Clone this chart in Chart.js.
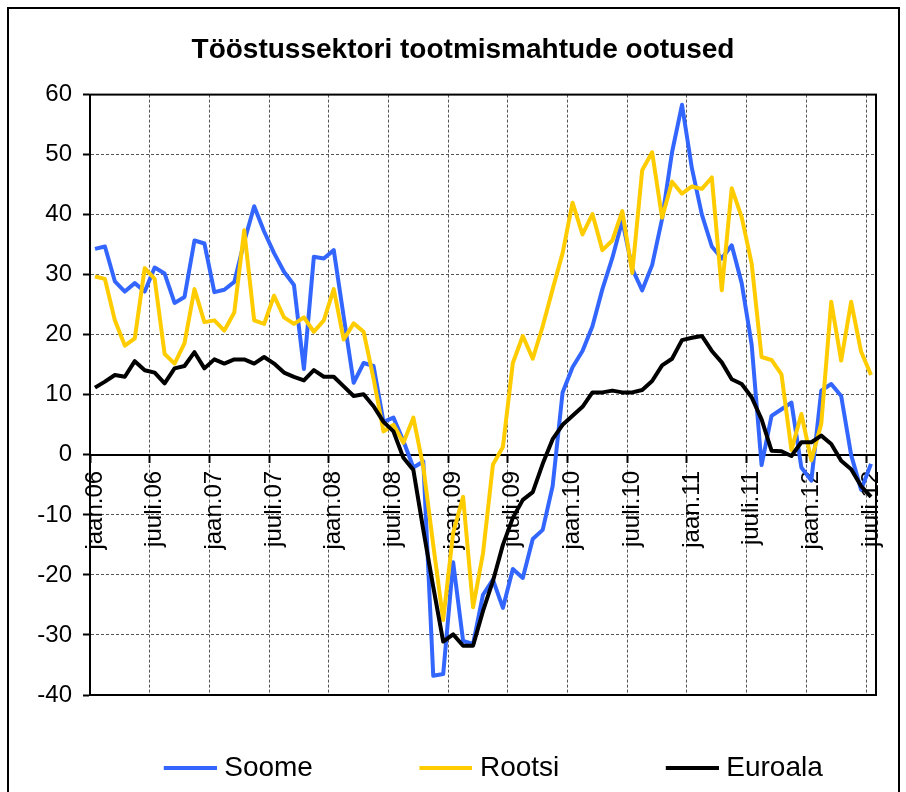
<!DOCTYPE html>
<html>
<head>
<meta charset="utf-8">
<title>Tööstussektori tootmismahtude ootused</title>
<script src="https://cdn.jsdelivr.net/npm/chart.js@4.4.1/dist/chart.umd.min.js"></script>
<style>
  html, body { margin: 0; padding: 0; background: #fff; }
</style>
</head>
<body>
<canvas id="graph" width="906" height="792"></canvas>
<script>
// months jaan.06 ... juuli.12
var monthNames = ["jaan", "veebr", "märts", "apr", "mai", "juuni", "juuli", "aug", "sept", "okt", "nov", "dets"];
var years = ["06", "07", "08", "09", "10", "11", "12"];
var lastMonth = 6; // data ends in juuli.12

var soome = [
  34.3, 34.7, 28.9, 27.2, 28.6, 27.2, 31.2, 30.2, 25.3, 26.3, 35.7, 35.2,
  27.1, 27.5, 28.8, 35.5, 41.4, 37.2, 33.6, 30.5, 28.3, 14.3, 33.0, 32.7,
  34.1, 23.0, 12.0, 15.3, 14.8, 5.5, 6.2, 2.3, -2.1, -1.1, -36.8, -36.5,
  -17.9, -31.0, -31.5, -23.3, -20.8, -25.5, -19.0, -20.5, -14.0, -12.5, -5.2, 10.4,
  14.6, 17.3, 21.4, 27.6, 32.8, 39.0, 31.0, 27.4, 31.6, 39.3, 50.4, 58.3,
  47.7, 40.0, 34.7, 32.7, 34.9, 28.6, 18.4, -1.7, 6.5, 7.6, 8.7, -2.1,
  -4.3, 10.7, 11.8, 9.8, 0.0, -5.8, -1.5
];
var rootsi = [
  29.7, 29.3, 22.4, 18.2, 19.4, 31.1, 29.3, 16.8, 15.2, 18.6, 27.6, 22.1,
  22.4, 20.7, 23.7, 37.4, 22.4, 21.8, 26.5, 22.9, 21.8, 22.9, 20.5, 22.4,
  27.6, 19.2, 21.9, 20.5, 12.7, 3.9, 5.0, 2.0, 6.2, -2.0, -15.0, -27.5,
  -13.0, -7.0, -25.4, -16.4, -1.6, 1.3, 15.3, 19.8, 16.0, 21.4, 27.6, 33.6,
  42.0, 36.7, 40.1, 34.1, 35.7, 40.6, 30.3, 47.4, 50.4, 39.5, 45.5, 43.5,
  44.7, 44.3, 46.2, 27.4, 44.4, 39.6, 31.9, 16.3, 15.8, 13.4, 0.8, 6.8,
  -0.9, 5.2, 25.5, 15.7, 25.5, 17.2, 13.3
];
var euroala = [
  11.2, 12.2, 13.3, 13.0, 15.6, 14.1, 13.7, 11.9, 14.4, 14.8, 17.1, 14.4,
  15.9, 15.2, 15.9, 15.9, 15.2, 16.3, 15.2, 13.7, 13.0, 12.4, 14.1, 13.0,
  13.0, 11.4, 9.8, 10.1, 8.1, 5.5, 3.9, -0.5, -2.5, -12.5, -22.0, -31.1,
  -29.9, -31.8, -31.8, -26.0, -21.0, -15.0, -10.5, -7.5, -6.2, -1.5, 2.6, 5.0,
  6.5, 8.0, 10.4, 10.4, 10.7, 10.4, 10.4, 10.8, 12.3, 14.9, 16.0, 19.1,
  19.5, 19.8, 17.3, 15.4, 12.6, 11.8, 9.6, 5.9, 0.7, 0.6, -0.2, 2.1,
  2.1, 3.2, 1.8, -1.0, -2.4, -5.2, -7.0
];

var yMin = -40;
var yMax = 60;
var yStep = 10;
var labelEvery = 6;

var labels = [];
years.forEach(function (y, yi) {
  monthNames.forEach(function (m, mi) {
    if (yi === years.length - 1 && mi > lastMonth) return;
    labels.push(m + "." + y);
  });
});

var FONT = "'Liberation Sans', Arial, sans-serif";
var BLUE = "#3366ff";
var YELLOW = "#ffcc00";
var BLACK = "#000000";

var PAD_LEFT = 34;
var PAD_RIGHT = 14;
var PLOT_LEFT = 90;
var PLOT_RIGHT_GAP = 30;
var LEGEND_BOX = 107;

// legend marker: thick line at the right end of a wider transparent box
function legendLine(color) {
  var c = document.createElement("canvas");
  c.width = LEGEND_BOX + 13;
  c.height = 4;
  var g = c.getContext("2d");
  g.fillStyle = color;
  g.fillRect(c.width - 53, 0, 53, 4);
  return c;
}
var legendMarks = [legendLine(BLUE), legendLine(YELLOW), legendLine(BLACK)];

// outer frame and plot area box
var frame = {
  id: "frame",
  beforeDraw: function (chart) {
    var ctx = chart.ctx;
    ctx.save();
    ctx.fillStyle = "#fff";
    ctx.fillRect(0, 0, chart.width, chart.height);
    ctx.strokeStyle = "#000";
    ctx.lineWidth = 2;
    ctx.strokeRect(8, 8, 891, 800);
    ctx.restore();
  },
  beforeDatasetsDraw: function (chart) {
    var a = chart.chartArea;
    var ctx = chart.ctx;
    ctx.save();
    ctx.strokeStyle = "#000";
    ctx.lineWidth = 2;
    ctx.strokeRect(a.left, a.top, a.right - a.left, a.bottom - a.top);
    ctx.restore();
  }
};

var chart = document.getElementById("graph").getContext("2d");
var graph = new Chart(chart, {
  type: "line",
  data: {
    labels: labels,
    datasets: [
      {
        label: "Soome",
        data: soome,
        borderColor: BLUE,
        backgroundColor: BLUE,
        borderWidth: 4,
        order: 2,
      },
      {
        label: "Rootsi",
        data: rootsi,
        borderColor: YELLOW,
        backgroundColor: YELLOW,
        borderWidth: 4,
        order: 1,
      },
      {
        label: "Euroala",
        data: euroala,
        borderColor: BLACK,
        backgroundColor: BLACK,
        borderWidth: 4,
        order: 0,
      },
    ],
  },
  options: {
    responsive: false,
    animation: false,
    elements: {
      point: { radius: 0 },
      line: { tension: 0, borderJoinStyle: "round" },
    },
    layout: {
      padding: { left: PAD_LEFT, right: PAD_RIGHT, top: 0, bottom: 0 },
    },
    plugins: {
      title: {
        display: true,
        text: "Tööstussektori tootmismahtude ootused",
        color: "#000",
        font: { size: 28, weight: "bold", family: FONT },
        padding: { top: 33, bottom: 28 },
      },
      legend: {
        position: "bottom",
        align: "center",
        // empty title only adds a little room above the legend row
        title: { display: true, text: "", padding: 0, font: { size: 13, lineHeight: 1 } },
        labels: {
          usePointStyle: true,
          pointStyleWidth: LEGEND_BOX,
          padding: 46,
          color: "#000",
          font: { size: 28, family: FONT },
          sort: function (a, b) {
            return a.datasetIndex - b.datasetIndex;
          },
          generateLabels: function (c) {
            var items = Chart.defaults.plugins.legend.labels.generateLabels(c);
            items.forEach(function (it) {
              it.pointStyle = legendMarks[it.datasetIndex];
            });
            return items;
          },
        },
      },
      tooltip: { enabled: false },
    },
    scales: {
      x: {
        position: { y: 0 },
        offset: true,
        grid: {
          offset: true,
          color: function (ctx) {
            return ctx.index % labelEvery === 0 ? "#555" : "transparent";
          },
          tickColor: function (ctx) {
            return ctx.index % labelEvery === 0 ? "#000" : "transparent";
          },
          tickLength: 7,
          tickWidth: 2,
        },
        border: { color: "#000", width: 2, dash: [3, 2] },
        ticks: {
          autoSkip: false,
          maxRotation: 90,
          minRotation: 90,
          padding: 9,
          color: "#000",
          font: { size: 24, family: FONT },
          callback: function (value, index) {
            return index % labelEvery === 0 ? this.getLabelForValue(value) : "";
          },
        },
        afterFit: function (scale) {
          scale.paddingLeft = 0;
          scale.paddingRight = PLOT_RIGHT_GAP;
        },
      },
      y: {
        min: yMin,
        max: yMax,
        ticks: {
          stepSize: yStep,
          padding: 11,
          color: "#000",
          font: { size: 24, family: FONT },
        },
        grid: {
          color: "#555",
          tickColor: "#000",
          tickLength: 7,
          tickWidth: 2,
        },
        border: { color: "#000", width: 2, dash: [3, 2] },
        afterFit: function (scale) {
          scale.width = PLOT_LEFT - PAD_LEFT;
        },
      },
    },
  },
  plugins: [frame],
});
</script>
</body>
</html>
